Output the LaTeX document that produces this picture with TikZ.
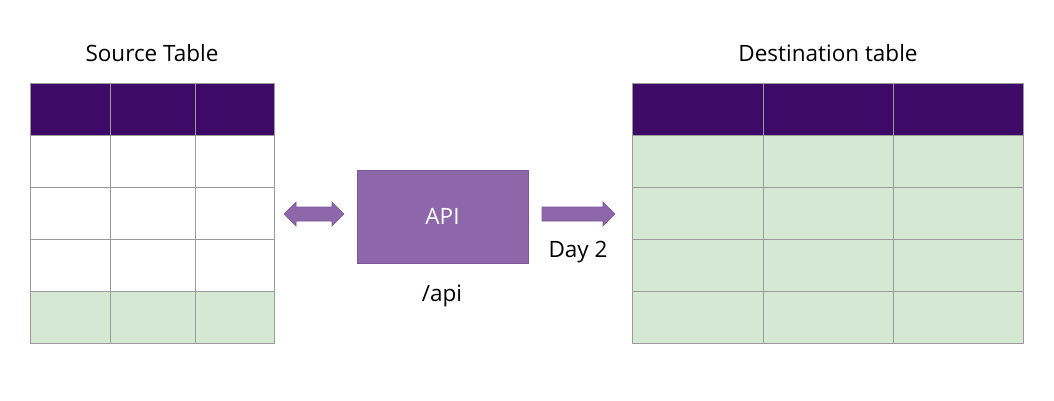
\documentclass[tikz,border=0pt]{standalone}
\usepackage{fontspec}
\setmainfont{Open Sans}
\usetikzlibrary{calc}
\definecolor{hdr}{HTML}{3D0A67}
\definecolor{apifill}{HTML}{8E67AA}
\definecolor{apiline}{HTML}{7B5699}
\definecolor{rowgreen}{HTML}{D5E8D4}
\definecolor{gridc}{HTML}{9A9A9A}
\tikzset{
  lbl/.style={font=\fontsize{22.5}{26}\selectfont, text=black, inner sep=0pt},
  cellhdr/.style={fill=hdr, draw=gridc, line width=0.9pt},
  cellw/.style={fill=white, draw=gridc, line width=0.9pt},
  cellg/.style={fill=rowgreen, draw=gridc, line width=0.9pt},
  apibox/.style={fill=apifill, draw=apiline, line width=0.8pt},
  arrowfill/.style={fill=apifill, draw=apiline, line width=0.6pt, line join=miter},
}
\begin{document}
\begin{tikzpicture}[x=1pt,y=-1pt]
\useasboundingbox (0,0) rectangle (1054,400);
% Source table
\foreach \xa/\xb in {30/110,110/195,195/274}{
  \draw[cellhdr] (\xa,83) rectangle (\xb,135);
  \foreach \ya/\yb in {135/187,187/239,239/291}{
    \draw[cellw] (\xa,\ya) rectangle (\xb,\yb);
  }
  \draw[cellg] (\xa,291) rectangle (\xb,343);
}
\node[inner sep=0pt, minimum width=244pt, minimum height=260pt] (src) at (152,213) {};
\node[lbl] (srclbl) at (152,53) {Source Table};
% Destination table
\foreach \xa/\xb in {632/763,763/893,893/1023}{
  \draw[cellhdr] (\xa,83) rectangle (\xb,135);
  \foreach \ya/\yb in {135/187,187/239,239/291,291/343}{
    \draw[cellg] (\xa,\ya) rectangle (\xb,\yb);
  }
}
\node[inner sep=0pt, minimum width=391pt, minimum height=260pt] (dst) at (827.5,213) {};
\node[lbl] (dstlbl) at (828,53) {Destination table};
% API box
\node[apibox, minimum width=171pt, minimum height=93pt, inner sep=0pt,
      font=\fontsize{22.5}{26}\selectfont, text=white] (api) at (442.5,216.5) {API};
\node[lbl] (apilbl) at (442,296) {/api};
% double arrow between source and API
\coordinate (da) at (284,214);
\coordinate (db) at (344,214);
\draw[arrowfill] (da) -- ++(12,-12) -- ++(0,5) -- ($(db)+(-12,-7)$) -- ++(0,-5) -- (db)
  -- ++(-12,12) -- ++(0,-5) -- ($(da)+(12,7)$) -- ++(0,5) -- cycle;
% single arrow to destination
\coordinate (sa) at (542,214);
\coordinate (sb) at (615,214);
\draw[arrowfill] ($(sa)+(0,-7)$) -- ($(sb)+(-12,-7)$) -- ++(0,-5) -- (sb) -- ++(-12,12)
  -- ++(0,-5) -- ($(sa)+(0,7)$) -- cycle;
\node[lbl] (daylbl) at (578,252) {Day 2};
\end{tikzpicture}
\end{document}
